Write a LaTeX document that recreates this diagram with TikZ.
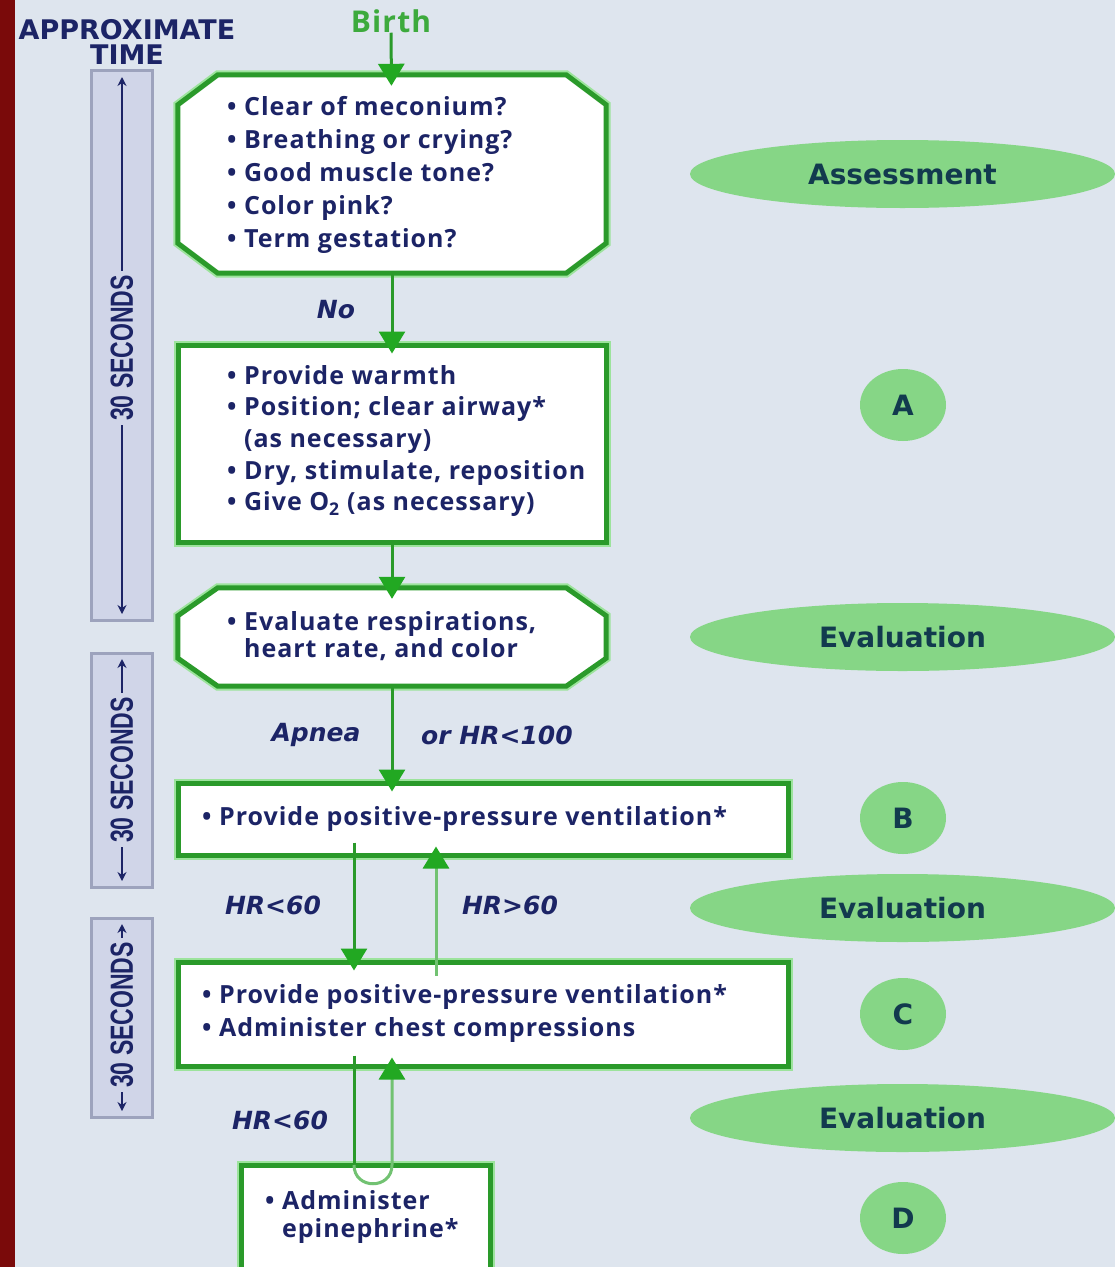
\documentclass[tikz,border=0pt]{standalone}
\usepackage{fontspec}
\setmainfont[LetterSpace=4]{Open Sans}
\newfontfamily\vfont{DejaVu Sans}
\newfontfamily\condfont[FakeStretch=0.72]{Liberation Sans}
\usetikzlibrary{arrows.meta,shapes.geometric}
\definecolor{navy}{HTML}{1C2466}
\definecolor{gdark}{HTML}{2A9A2A}
\definecolor{gglow}{HTML}{9CE39C}
\definecolor{gup}{HTML}{72C272}
\definecolor{gtip}{HTML}{22A822}
\definecolor{ovalc}{HTML}{86D686}
\definecolor{ovaltext}{HTML}{123A4E}
\definecolor{bgc}{HTML}{DEE5EE}
\definecolor{barfill}{HTML}{D0D5E8}
\definecolor{barline}{HTML}{9DA3BD}
\definecolor{stripc}{HTML}{7A0A0A}
\definecolor{birthc}{HTML}{3DAA3D}
\begin{document}
\begin{tikzpicture}[x=1pt,y=-1pt,
  boxframe/.style={draw=gdark, line width=5pt, fill=white, preaction={draw=gglow, line width=9pt}},
  flowbox/.style={rectangle, boxframe, inner sep=0pt},
  ghost/.style={rectangle, draw=none, fill=none, inner sep=0pt},
  txt/.style={text=navy, align=left, inner sep=0pt, anchor=west},
  flow/.style={draw=gdark, line width=3pt, -{Triangle[width=26pt,length=22pt,color=gtip]}, shorten >=-11pt},
  flowup/.style={draw=gup, line width=3pt, -{Triangle[width=26pt,length=22pt,color=gtip]}, shorten >=-11pt},
  plain/.style={draw=gdark, line width=3pt},
  lab/.style={text=navy, font=\vfont\bfseries\itshape\fontsize{25}{28}\selectfont, inner sep=0pt},
  oval/.style={ellipse, fill=ovalc, text=ovaltext, font=\vfont\bfseries\fontsize{28}{32}\selectfont, inner sep=0pt},
  bar/.style={draw=barline, line width=3pt, fill=barfill},
  barlinestyle/.style={draw=navy, line width=2pt, {Stealth[width=9pt,length=9pt]}-{Stealth[width=9pt,length=9pt]}},
  bartext/.style={text=navy, font=\condfont\bfseries\fontsize{32}{34}\selectfont, rotate=90, fill=barfill, inner xsep=4pt, inner ysep=0pt}
]
\useasboundingbox (0,0) rectangle (1115,1267);
\clip (0,0) rectangle (1115,1267);
\fill[bgc] (0,0) rectangle (1115,1267);
\fill[stripc] (0,0) rectangle (15,1267);

% time header
\node[text=navy, font=\vfont\bfseries\fontsize{27}{25}\selectfont, inner sep=0pt, align=center] (hdr) at (127,42) {APPROXIMATE\\TIME};

% time bars
\node[bar, rectangle, minimum width=61, minimum height=550, inner sep=0pt] (bar1) at (121.5,345) {};
\coordinate (bar1t) at (122,77);
\coordinate (bar1b) at (122,614);
\draw[barlinestyle] (bar1t) -- (bar1b);
\node[bartext] (bar1txt) at (122,348) {30 SECONDS};

\node[bar, rectangle, minimum width=61, minimum height=234, inner sep=0pt] (bar2) at (121.5,770) {};
\coordinate (bar2t) at (122,659);
\coordinate (bar2b) at (122,881);
\draw[barlinestyle] (bar2t) -- (bar2b);
\node[bartext] (bar2txt) at (122,770) {30 SECONDS};

\node[bar, rectangle, minimum width=61, minimum height=199, inner sep=0pt] (bar3) at (121.5,1017.5) {};
\coordinate (bar3t) at (122,924);
\coordinate (bar3b) at (122,1111);
\draw[barlinestyle] (bar3t) -- (bar3b);
\node[bartext] (bar3txt) at (122,1015) {30 SECONDS};

% ovals
\node[oval, minimum width=425, minimum height=68] (ov1) at (902.5,174) {Assessment};
\node[oval, minimum width=86, minimum height=72] (ovA) at (903,405) {A};
\node[oval, minimum width=425, minimum height=68] (ov2) at (902.5,637) {Evaluation};
\node[oval, minimum width=86, minimum height=72] (ovB) at (903,818) {B};
\node[oval, minimum width=425, minimum height=68] (ov3) at (902.5,908) {Evaluation};
\node[oval, minimum width=86, minimum height=72] (ovC) at (903,1014) {C};
\node[oval, minimum width=425, minimum height=68] (ov4) at (902.5,1118) {Evaluation};
\node[oval, minimum width=86, minimum height=72] (ovD) at (903,1218) {D};

% Birth
\node[text=birthc, font=\bfseries\fontsize{30}{32}\selectfont, inner sep=0pt] (birth) at (391,21) {Birth};

% box 1 (chamfered)
\node[ghost, minimum width=428, minimum height=198] (b1) at (392,174) {};
\path[boxframe] ([xshift=40pt]b1.north west) -- ([xshift=-40pt]b1.north east) -- ([yshift=-30pt]b1.north east) -- ([yshift=30pt]b1.south east) -- ([xshift=-40pt]b1.south east) -- ([xshift=40pt]b1.south west) -- ([yshift=30pt]b1.south west) -- ([yshift=-30pt]b1.north west) -- cycle;
\node[txt, font=\bfseries\fontsize{25}{33}\selectfont] (b1t) at (227,175) {• Clear of meconium?\\• Breathing or crying?\\• Good muscle tone?\\• Color pink?\\• Term gestation?};

% box 2
\node[flowbox, minimum width=428, minimum height=197] (b2) at (392,443.5) {};
\node[txt, font=\bfseries\fontsize{25}{31.7}\selectfont] (b2t) at (227,441) {• Provide warmth\\• Position; clear airway*\\\phantom{• }(as necessary)\\• Dry, stimulate, reposition\\• Give O\textsubscript{2} (as necessary)};

% box 3 (chamfered)
\node[ghost, minimum width=428, minimum height=98] (b3) at (392,637) {};
\path[boxframe] ([xshift=40pt]b3.north west) -- ([xshift=-40pt]b3.north east) -- ([yshift=-28pt]b3.north east) -- ([yshift=28pt]b3.south east) -- ([xshift=-40pt]b3.south east) -- ([xshift=40pt]b3.south west) -- ([yshift=28pt]b3.south west) -- ([yshift=-28pt]b3.north west) -- cycle;
\node[txt, font=\bfseries\fontsize{25}{27}\selectfont] (b3t) at (227,636) {• Evaluate respirations,\\\phantom{• }heart rate, and color};

% box 4
\node[flowbox, minimum width=610, minimum height=72] (b4) at (483,819) {};
\node[txt, font=\bfseries\fontsize{25}{30}\selectfont] (b4t) at (202,819) {• Provide positive-pressure ventilation*};

% box 5
\node[flowbox, minimum width=610, minimum height=104] (b5) at (483,1014) {};
\node[txt, font=\bfseries\fontsize{25}{33}\selectfont] (b5t) at (202,1013) {• Provide positive-pressure ventilation*\\• Administer chest compressions};

% box 6
\node[flowbox, minimum width=249, minimum height=110] (b6) at (365.5,1220) {};
\node[txt, font=\bfseries\fontsize{25}{28}\selectfont] (b6t) at (265,1217) {• Administer\\\phantom{• }epinephrine*};

% connectors
\draw[flow] (birth) -- (b1);
\draw[flow] (b1) -- (b2);
\draw[flow] (b2) -- (b3);
\draw[flow] (b3.south) -- (b3.south |- b4.north);
\draw[flow] ([xshift=-129pt,yshift=15pt]b4.south) -- ([xshift=-129pt]b5.north);
\draw[flowup] ([xshift=-47pt,yshift=-16pt]b5.north) -- ([xshift=-47pt]b4.south);
\coordinate (loopL) at (354,1165);
\coordinate (loopR) at (392,1165);
\draw[plain] ([yshift=13pt]b5.south -| loopL) -- (loopL);
\draw[flowup] (loopL) .. controls (354,1190) and (392,1190) .. (loopR) -- (b5.south -| loopR);

% labels
\node[lab] (lNo) at (336,310) {No};
\node[lab] (lAp) at (316,735) {Apnea};
\node[lab] (lHR100) at (497,735) {or HR<100};
\node[lab] (lHR60a) at (273,905) {HR<60};
\node[lab] (lHR60b) at (510,905) {HR>60};
\node[lab] (lHR60c) at (280,1120) {HR<60};
\end{tikzpicture}
\end{document}
